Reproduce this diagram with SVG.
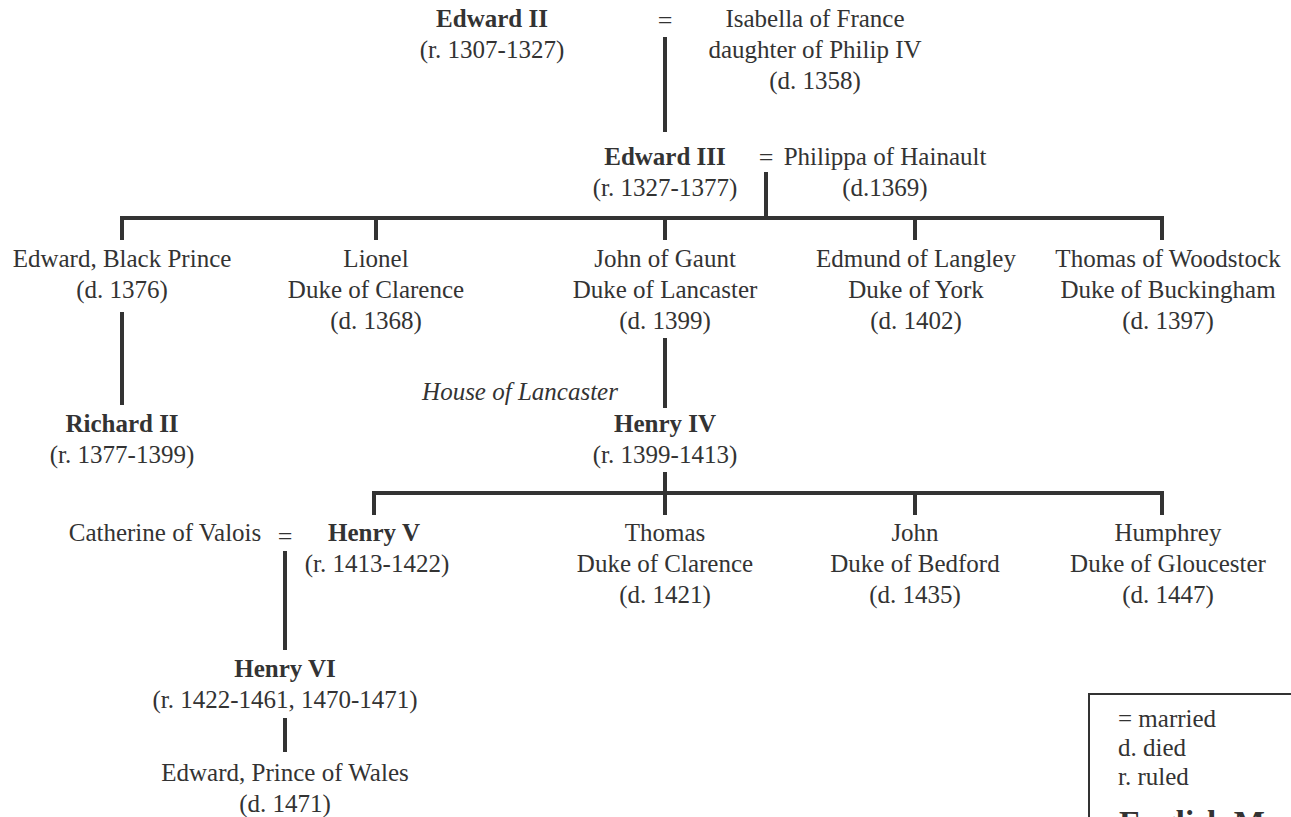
<svg xmlns="http://www.w3.org/2000/svg" width="1291" height="817" viewBox="0 0 1291 817">
  <style>
    text { font-family: "Liberation Serif", "Times New Roman", serif; font-size: 25px; fill: #333; text-anchor: middle; }
    .b { font-weight: bold; }
    .i { font-style: italic; }
    .eq { font-size: 26px; }
    .lg { text-anchor: start; }
    .title { font-size: 33px; font-weight: bold; }
    .ln { stroke: #333; stroke-width: 4; fill: none; }
  </style>
  <rect width="1291" height="817" fill="#fff"/>

  <!-- connectors -->
  <g id="connectors" class="ln">
    <line x1="665" y1="37" x2="665" y2="132"/>
    <line x1="766" y1="172" x2="766" y2="218"/>
    <path d="M122 240 V218 H1162 V240"/>
    <line x1="376" y1="218" x2="376" y2="240"/>
    <line x1="665" y1="218" x2="665" y2="240"/>
    <line x1="915" y1="218" x2="915" y2="240"/>
    <line x1="122" y1="312" x2="122" y2="405"/>
    <line x1="665" y1="338" x2="665" y2="408"/>
    <line x1="665" y1="472" x2="665" y2="493"/>
    <path d="M374 515 V493 H1162 V515"/>
    <line x1="665" y1="493" x2="665" y2="515"/>
    <line x1="915" y1="493" x2="915" y2="515"/>
    <line x1="285" y1="551" x2="285" y2="650"/>
    <line x1="285" y1="718" x2="285" y2="752"/>
  </g>

  <!-- marriage signs -->
  <g id="marriages">
    <text class="eq" x="665" y="29">=</text>
    <text class="eq" x="766" y="166">=</text>
    <text class="eq" x="285" y="545">=</text>
  </g>

  <g id="edward2"><text class="b" x="492" y="27">Edward II</text><text x="492" y="58">(r. 1307-1327)</text></g>
  <g id="isabella"><text x="815" y="27">Isabella of France</text><text x="815" y="58">daughter of Philip IV</text><text x="815" y="89">(d. 1358)</text></g>

  <g id="edward3"><text class="b" x="665" y="165">Edward III</text><text x="665" y="196">(r. 1327-1377)</text></g>
  <g id="philippa"><text x="885" y="165">Philippa of Hainault</text><text x="885" y="196">(d.1369)</text></g>

  <g id="black-prince"><text x="122" y="267">Edward, Black Prince</text><text x="122" y="298">(d. 1376)</text></g>
  <g id="lionel"><text x="376" y="267">Lionel</text><text x="376" y="298">Duke of Clarence</text><text x="376" y="329">(d. 1368)</text></g>
  <g id="john-of-gaunt"><text x="665" y="267">John of Gaunt</text><text x="665" y="298">Duke of Lancaster</text><text x="665" y="329">(d. 1399)</text></g>
  <g id="edmund"><text x="916" y="267">Edmund of Langley</text><text x="916" y="298">Duke of York</text><text x="916" y="329">(d. 1402)</text></g>
  <g id="thomas-woodstock"><text x="1168" y="267">Thomas of Woodstock</text><text x="1168" y="298">Duke of Buckingham</text><text x="1168" y="329">(d. 1397)</text></g>

  <g id="richard2"><text class="b" x="122" y="432">Richard II</text><text x="122" y="463">(r. 1377-1399)</text></g>
  <g id="house-label"><text class="i" x="520" y="400">House of Lancaster</text></g>
  <g id="henry4"><text class="b" x="665" y="432">Henry IV</text><text x="665" y="463">(r. 1399-1413)</text></g>

  <g id="catherine"><text x="165" y="541">Catherine of Valois</text></g>
  <g id="henry5"><text class="b" x="374" y="541">Henry V</text><text x="377" y="572">(r. 1413-1422)</text></g>
  <g id="thomas-clarence"><text x="665" y="541">Thomas</text><text x="665" y="572">Duke of Clarence</text><text x="665" y="603">(d. 1421)</text></g>
  <g id="john-bedford"><text x="915" y="541">John</text><text x="915" y="572">Duke of Bedford</text><text x="915" y="603">(d. 1435)</text></g>
  <g id="humphrey"><text x="1168" y="541">Humphrey</text><text x="1168" y="572">Duke of Gloucester</text><text x="1168" y="603">(d. 1447)</text></g>

  <g id="henry6"><text class="b" x="285" y="677">Henry VI</text><text x="285" y="708">(r. 1422-1461, 1470-1471)</text></g>
  <g id="edward-wales"><text x="285" y="781">Edward, Prince of Wales</text><text x="285" y="812">(d. 1471)</text></g>

  <!-- key -->
  <g id="legend">
    <rect x="1089" y="694" width="220" height="140" fill="none" stroke="#333" stroke-width="2"/>
    <text class="lg" x="1118" y="727">= married</text>
    <text class="lg" x="1118" y="756">d. died</text>
    <text class="lg" x="1118" y="785">r. ruled</text>
    <text class="lg title" x="1119" y="834">English Monarchs</text>
  </g>
</svg>
